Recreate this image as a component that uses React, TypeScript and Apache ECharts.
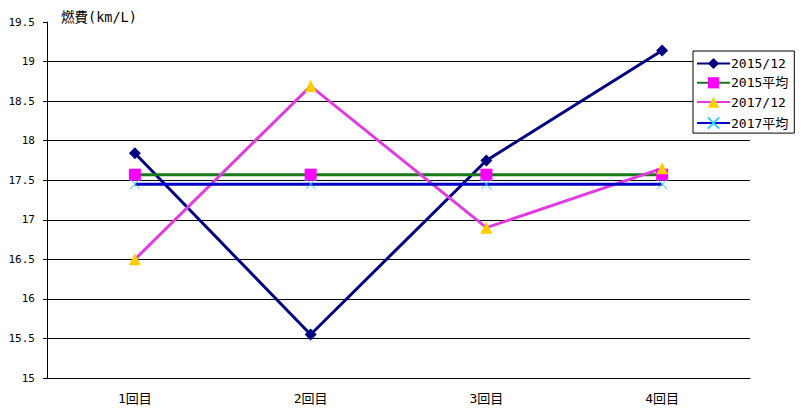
import React, { useEffect, useRef } from "react";
import * as echarts from "echarts";

const categories = ["1回目", "2回目", "3回目", "4回目"];
const s2015 = [17.84, 15.55, 17.75, 19.14];
const s2015avg = [17.57, 17.57, 17.57, 17.57];
const s2017 = [16.5, 18.69, 16.9, 17.65];
const s2017avg = [17.45, 17.45, 17.45, 17.45];
const yMin = 15;
const yMax = 19.5;
const yInterval = 0.5;

const FONT = "'DejaVu Sans Mono', 'Noto Sans CJK JP', monospace";
const X_PATH = "path://M0,0L10,10M10,0L0,10";

export default function App() {
  const ref = useRef<HTMLDivElement>(null);
  useEffect(() => {
    if (!ref.current) return;
    const chart = echarts.init(ref.current, null, { renderer: "svg" });
    chart.setOption({
      animation: false,
      backgroundColor: "#ffffff",
      textStyle: { fontFamily: FONT },
      title: {
        text: "燃費(km/L)",
        left: 56,
        top: 5,
        textStyle: { fontSize: 13.5, fontWeight: "normal", color: "#000", fontFamily: FONT },
      },
      grid: { left: 47, top: 22, right: 56, bottom: 39, containLabel: false },
      legend: {
        orient: "vertical",
        left: 693,
        top: 51,
        padding: [6, 6, 2, 3],
        itemWidth: 33,
        itemHeight: 14,
        itemGap: 6.3,
        backgroundColor: "#ffffff",
        borderColor: "#000",
        borderWidth: 1,
        borderRadius: 0,
        textStyle: { fontSize: 13, color: "#000", fontFamily: FONT, padding: [0, 0, 0, -4] },
        data: ["2015/12", "2015平均", "2017/12", "2017平均"],
      },
      xAxis: {
        type: "category",
        data: categories,
        boundaryGap: true,
        axisLine: { lineStyle: { color: "#000", width: 1 } },
        axisTick: { inside: true, length: 4, lineStyle: { color: "#000" } },
        axisLabel: { color: "#000", fontSize: 13, margin: 14, fontFamily: FONT },
        splitLine: { show: false },
      },
      yAxis: {
        type: "value",
        min: yMin,
        max: yMax,
        interval: yInterval,
        axisLine: { show: true, lineStyle: { color: "#000", width: 1 } },
        axisTick: { show: true, length: 4, lineStyle: { color: "#000" } },
        axisLabel: { color: "#000", fontSize: 11, margin: 12, fontFamily: FONT },
        splitLine: { show: true, showMaxLine: false, lineStyle: { color: "#000", width: 1 } },
      },
      series: [
        {
          name: "2015/12",
          type: "line",
          data: s2015,
          symbol: "diamond",
          symbolSize: 12,
          lineStyle: { color: "#000080", width: 3 },
          itemStyle: { color: "#000080" },
        },
        {
          name: "2015平均",
          type: "line",
          data: s2015avg,
          symbol: "rect",
          symbolSize: 12,
          lineStyle: { color: "#1a7a1a", width: 3 },
          itemStyle: { color: "#ff00ff" },
        },
        {
          name: "2017/12",
          type: "line",
          data: s2017,
          symbol: "triangle",
          symbolSize: 12,
          lineStyle: { color: "#e03ce0", width: 3 },
          itemStyle: { color: "#ffcc00" },
        },
        {
          name: "2017平均",
          type: "line",
          data: s2017avg,
          symbol: X_PATH,
          symbolSize: 10,
          lineStyle: { color: "#0000cc", width: 3 },
          itemStyle: { color: "none", borderColor: "#33ccff", borderWidth: 1 },
        },
      ],
    });
    return () => chart.dispose();
  }, []);
  return <div ref={ref} style={{ width: 806, height: 417, margin: -8 }} />;
}
